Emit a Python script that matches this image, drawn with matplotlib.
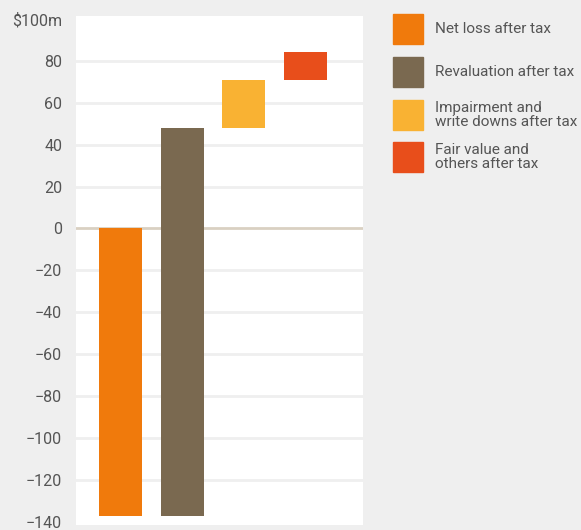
import numpy as np
import matplotlib.pyplot as plt
from matplotlib.patches import Rectangle

# --- data ---
categories = ['Net loss after tax', 'Revaluation after tax',
              'Impairment and\nwrite downs after tax', 'Fair value and\nothers after tax']
changes = [-137, 185, 23, 13]          # $m
colors = ['#f07a0c', '#7a6950', '#f9b233', '#e84e1b']
yticks = [-140, -120, -100, -80, -60, -40, -20, 0, 20, 40, 60, 80, 100]
ytick_labels = ['\u2212140', '\u2212120', '\u2212100', '\u221280', '\u221260', '\u221240',
                '\u221220', '0', '20', '40', '60', '80', '$100m']

bg = '#efefef'
txt = '#555555'
plt.rcParams['font.family'] = ['Roboto', 'DejaVu Sans']

fig = plt.figure(figsize=(5.81, 5.30), dpi=100, facecolor=bg)
ax = fig.add_axes([0.1308, 0.0094, 0.494, 0.961])
ax.set_facecolor('white')

# waterfall: each bar starts where the previous one ended
bottoms = np.concatenate([[0], np.cumsum(changes)[:-1]])
x = np.arange(len(changes))
ax.bar(x, changes, bottom=bottoms, width=0.70, color=colors, zorder=3)

# grid + zero line
for y in yticks[1:-1]:
    if y == 0:
        ax.axhline(y, color='#d9d0c2', lw=2, zorder=2)
    else:
        ax.axhline(y, color=bg, lw=2, zorder=1)

ax.set_xlim(-0.73, 3.94)
ax.set_ylim(-141.5, 101.5)
ax.set_xticks([])
ax.set_yticks(yticks)
ax.set_yticklabels(ytick_labels)
ax.tick_params(axis='y', length=0, pad=10, labelsize=11.5, labelcolor=txt)
for s in ax.spines.values():
    s.set_visible(False)

# legend drawn by hand on the right
ys = [0.945, 0.864, 0.783, 0.703]
for cat, c, yy in zip(categories, colors, ys):
    fig.add_artist(Rectangle((393 / 581, yy - 15 / 530), 30 / 581, 30 / 530,
                             transform=fig.transFigure, color=c))
    fig.text(435 / 581, yy, cat, ha='left', va='center', fontsize=11,
             color=txt, linespacing=1.0)

fig.savefig('out.png', dpi=100, facecolor=bg)
